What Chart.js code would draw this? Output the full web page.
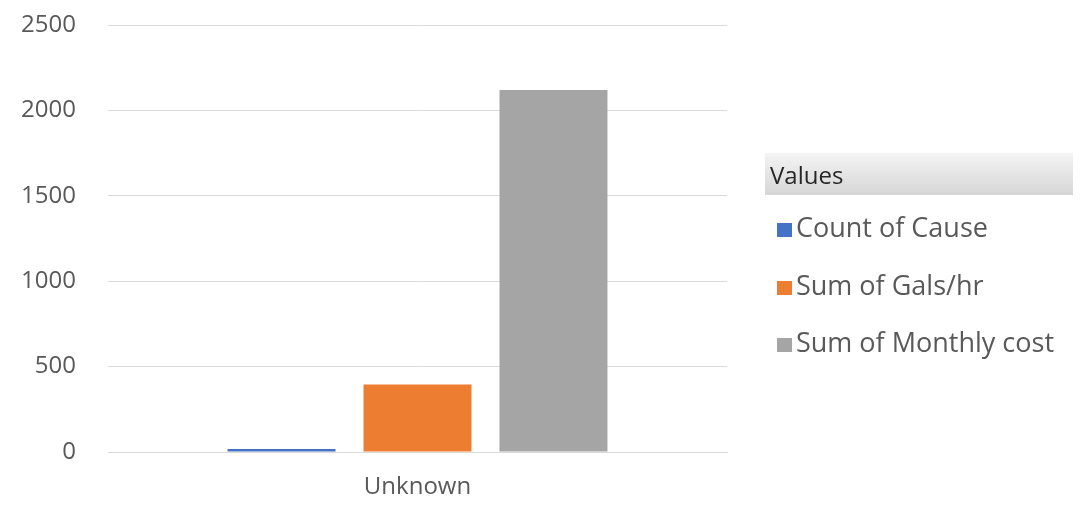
<!DOCTYPE html>
<html lang="en">
<head>
    <meta charset="UTF-8">
    <script src="https://cdn.jsdelivr.net/npm/chart.js@4.4.1/dist/chart.umd.min.js"></script>
    <title>Values</title>
    <style>
        body { margin: 0; background: #fff; }
        #wrap { position: relative; width: 1084px; height: 506px; }
        #legend { position: absolute; left: 765px; top: 153px; width: 308px; font-family: "Open Sans", sans-serif; }
        #legend .head { height: 42px; line-height: 44px; padding-left: 5px; font-size: 24px; color: #262626;
            background: linear-gradient(to bottom, #f4f4f4, #d6d6d6); margin-bottom: 16px; }
        #legend .item { height: 57.5px; line-height: 32px; font-size: 27px; color: #595959; padding-left: 12px; white-space: nowrap; }
        #legend .sw { display: inline-block; width: 15px; height: 14px; margin-right: 4px; vertical-align: 0px; }
    </style>
</head>
<body>
    <div id="wrap">
        <canvas id="chart" width="1084" height="506"></canvas>
        <div id="legend"><div class="head">Values</div></div>
    </div>

    <script>
        // values
        const categories = ['Unknown'];
        const seriesNames = ['Count of Cause', 'Sum of Gals/hr', 'Sum of Monthly cost'];
        const countOfCause = [17];
        const sumGalsHr = [395];
        const sumMonthlyCost = [2120];
        const yTicks = [0, 500, 1000, 1500, 2000, 2500];

        const colors = ['#4472c4', '#ed7d31', '#a5a5a5'];
        const seriesData = [countOfCause, sumGalsHr, sumMonthlyCost];

        // html legend built from the series
        const legend = document.getElementById('legend');
        seriesNames.forEach((name, i) => {
            const row = document.createElement('div');
            row.className = 'item';
            row.innerHTML = '<span class="sw" style="background:' + colors[i] + '"></span>' + name;
            legend.appendChild(row);
        });

        const ctx = document.getElementById('chart').getContext('2d');
        const myChart = new Chart(ctx, {
            type: 'bar',
            data: {
                labels: categories,
                datasets: seriesNames.map((name, i) => ({
                    label: name,
                    data: seriesData[i],
                    backgroundColor: colors[i],
                    categoryPercentage: 0.659,
                    barPercentage: 0.794
                }))
            },
            options: {
                responsive: false,
                animation: false,
                layout: { padding: { top: 25, right: 357, left: 0, bottom: 0 } },
                plugins: { legend: { display: false }, tooltip: { enabled: false } },
                scales: {
                    x: {
                        grid: { display: false, drawTicks: false },
                        border: { color: '#d9d9d9' },
                        ticks: { padding: 21, color: '#595959', font: { family: 'Open Sans', size: 24 } },
                        afterFit: function(scale) {
                            scale.height = 54;
                            scale.paddingLeft = 0;
                            scale.paddingRight = 0;
                        }
                    },
                    y: {
                        min: 0,
                        max: 2500,
                        afterBuildTicks: function(scale) {
                            scale.ticks = yTicks.map(v => ({ value: v }));
                        },
                        grid: { color: '#d9d9d9', drawTicks: false },
                        border: { display: false },
                        ticks: {
                            padding: 32, color: '#595959', font: { family: 'Open Sans', size: 24 },
                            callback: function(value) { return String(value); }
                        },
                        afterFit: function(scale) {
                            scale.width = 108;
                            scale.paddingTop = 0;
                            scale.paddingBottom = 0;
                        }
                    }
                }
            }
        });
    </script>
</body>
</html>
